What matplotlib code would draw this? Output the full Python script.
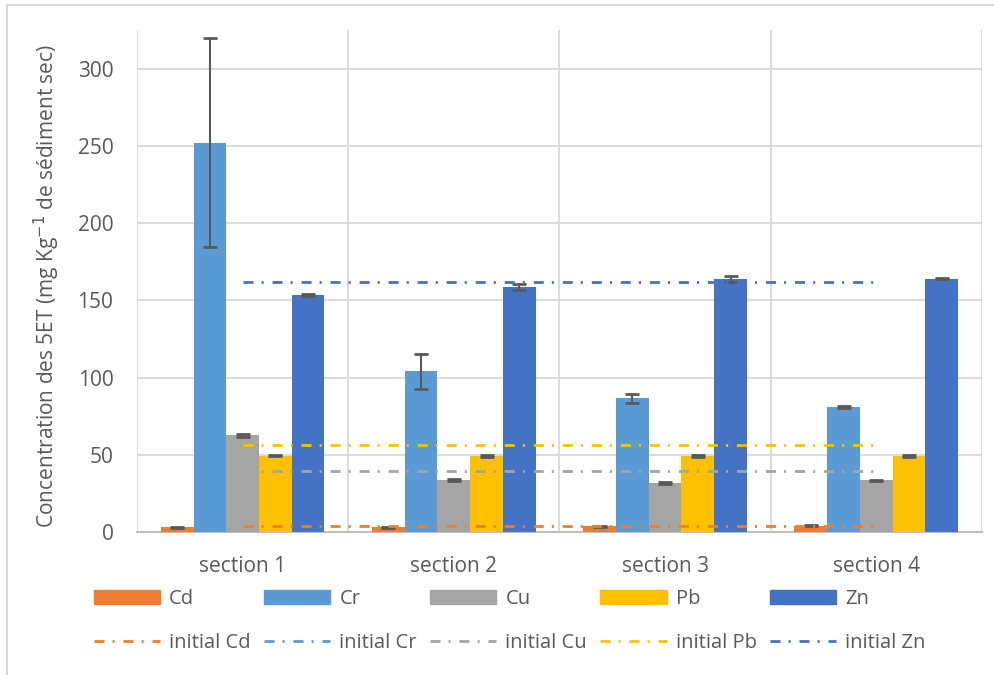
import matplotlib.pyplot as plt
from matplotlib.lines import Line2D
import numpy as np

plt.rcParams['font.family'] = ['Open Sans', 'DejaVu Sans']

# Données
sections = ["section 1", "section 2", "section 3", "section 4"]
metaux = ["Cd", "Cr", "Cu", "Pb", "Zn"]
cd = [3.0, 3.0, 3.8, 4.0]
cr = [252, 104, 86.6, 81]
cu = [62.5, 33.6, 31.7, 33.4]
pb = [49.5, 49.2, 49.2, 49.2]
zn = [153.5, 158.6, 163.8, 164.0]
err_cd = [0.3, 0.4, 0.3, 0.3]
err_cr = [67.5, 11.5, 3.0, 0.5]
err_cu = [0.8, 0.8, 0.6, 0.5]
err_pb = [0.4, 0.4, 0.4, 0.4]
err_zn = [0.5, 2.1, 2.2, 0.5]
# valeurs initiales (Cr non visible sur le graphique)
init_cd = 3.9
init_cr = np.nan
init_cu = 39.2
init_pb = 56.2
init_zn = 161.8

valeurs = [cd, cr, cu, pb, zn]
erreurs = [err_cd, err_cr, err_cu, err_pb, err_zn]
initiales = [init_cd, init_cr, init_cu, init_pb, init_zn]
couleurs = ["#ED7D31", "#5B9BD5", "#A5A5A5", "#FFC000", "#4472C4"]
gris = "#595959"

fig = plt.figure(figsize=(9.95, 6.75), dpi=100)
ax = fig.add_axes([0.1377, 0.2119, 0.8492, 0.7437])

x = np.arange(len(sections))
largeur = 0.155
lw_init = 2.0
motif = (0, (3.6, 2.9, 0.75, 3.2))

handles = []
for i, (nom, vals, errs, c) in enumerate(zip(metaux, valeurs, erreurs, couleurs)):
    pos = x + (i - 2) * largeur
    ax.bar(pos, vals, largeur, color=c, zorder=3)
    ax.errorbar(pos, vals, yerr=errs, fmt="none", ecolor=gris, elinewidth=1.5,
                capsize=5, capthick=2, zorder=4)
    handles.append(plt.Rectangle((0, 0), 1, 1, color=c, label=nom))
    handles.append(Line2D([], [], color=c, lw=lw_init, linestyle=motif, label="initial " + nom))

# lignes des valeurs initiales
for val, c in zip(initiales, couleurs):
    ax.plot(x, [val] * len(x), color=c, lw=lw_init, linestyle=motif, zorder=5)

ax.set_xlim(-0.5, 3.5)
ax.set_ylim(0, 325)
ax.set_yticks(np.arange(0, 301, 50))
ax.set_xticks(x)
ax.set_xticklabels(sections)
ax.set_xticks(np.arange(-0.5, 3.6, 1), minor=True)
ax.grid(True, which="minor", axis="x", color="#D9D9D9", lw=1.3, zorder=0)
ax.grid(True, which="major", axis="y", color="#D9D9D9", lw=1.3, zorder=0)
ax.tick_params(axis="both", which="both", length=0, labelsize=15, colors=gris)
ax.tick_params(axis="x", pad=17)
ax.tick_params(axis="y", pad=17)
for s in ["top", "right", "left"]:
    ax.spines[s].set_visible(False)
ax.spines["bottom"].set_color("#BFBFBF")
ax.spines["bottom"].set_linewidth(1.5)
ax.set_ylabel("Concentration des 5ET (mg Kg$^{-1}$ de sédiment sec)", fontsize=15,
              color=gris)
ax.yaxis.set_label_coords(-0.089, 0.49)

fig.legend(handles=handles, ncol=5, loc="upper left", bbox_to_anchor=(0.094, 0.127),
           frameon=False, fontsize=14.5, labelcolor=gris, handlelength=3.3,
           handleheight=0.7, handletextpad=0.45, columnspacing=0.65, labelspacing=1.2,
           borderaxespad=0, borderpad=0)

# bordure du cadre
fig.add_artist(Line2D([0.007, 0.007], [0, 0.993], color="#D9D9D9", lw=1.5))
fig.add_artist(Line2D([0.007, 1], [0.993, 0.993], color="#D9D9D9", lw=1.5))

fig.savefig("out.png", dpi=100)
